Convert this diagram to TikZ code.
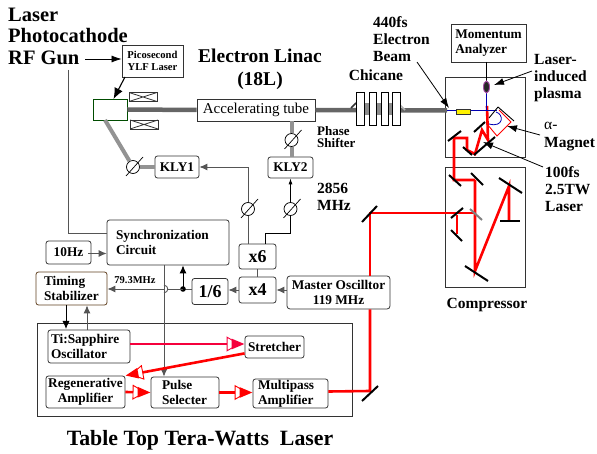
\documentclass[tikz,border=0pt]{standalone}
\usepackage{fontspec}
\setmainfont{Liberation Serif}
\usetikzlibrary{arrows.meta}
\definecolor{sigcol}{HTML}{555555}
\definecolor{boxcol}{HTML}{333333}
\definecolor{beamcol}{HTML}{666666}
\definecolor{pulsecol}{HTML}{F5003C}
\tikzset{
    blk/.style={draw=boxcol,fill=white,rounded corners=2.5pt,line width=0.8pt,inner sep=0pt,font=\bfseries\fontsize{13.3}{15}\selectfont,align=center},
    panel/.style={draw=boxcol,line width=0.9pt,inner sep=0pt},
    lbl/.style={inner sep=0pt,align=left,font=\bfseries\fontsize{15.5}{17}\selectfont},
    bigtxt/.style 2 args={inner sep=0pt,font=\bfseries\fontsize{#1}{#2}\selectfont},
    coil/.style={draw=boxcol,line width=0.8pt,inner sep=0pt,minimum width=28pt,minimum height=9pt,
        path picture={\draw[boxcol] (path picture bounding box.north west) -- (path picture bounding box.south east)
        (path picture bounding box.south west) -- (path picture bounding box.north east);}},
    phasecirc/.style={circle,draw=black,fill=white,line width=0.7pt,minimum size=13pt,inner sep=0pt},
    sig/.style={draw=sigcol,line width=0.9pt},
    sigarrow/.style={sig,-{Latex[length=8pt,width=7pt]}},
    callout/.style={draw=black,line width=0.8pt,-{Latex[length=10pt,width=7pt]}},
    thickrf/.style={draw=gray!85,line width=4pt},
    beamline/.style={draw=beamcol,line width=4.5pt},
    laser/.style={draw=red,line width=2.6pt},
    lasarrow/.style={laser,-{Triangle[open,fill=white,length=13pt,width=15pt,line width=0.9pt,sep=-8pt]Triangle[length=13pt,width=10pt]}},
    mirror/.style={draw=black,line width=2pt},
}
\newcommand{\phaseshift}[2]{
    \node[phasecirc] (#1) at (#2) {};
    \draw[line width=0.7pt] (#1) ++(-7,9) -- ++(17,-19);
}
\begin{document}
\begin{tikzpicture}[x=1pt,y=-1pt]
    \useasboundingbox (0,0) rectangle (597,454);

    \node[panel,minimum width=315pt,minimum height=93pt] (tabletop) at (194.5,369.5) {};
    \node[panel,minimum width=80pt,minimum height=80pt] (chamber) at (485,117) {};
    \node[panel,minimum width=80pt,minimum height=120pt] (compressor) at (485,227) {};

    \node[bigtxt={20.5}{21.5},align=left,anchor=west] (gunlabel) at (8,36) {Laser\\Photocathode\\RF Gun};
    \node[blk,rounded corners=0pt,font=\bfseries\fontsize{10.6}{12}\selectfont,minimum width=61pt,minimum height=32pt] (ylf) at (152.5,61) {Picosecond\\YLF Laser};
    \node[bigtxt={19.5}{23},align=center] (linac) at (260,69.5) {Electron Linac\\(18L)};
    \node[draw=green!30!black,fill=white,line width=0.8pt,minimum width=34pt,minimum height=21pt,inner sep=0pt] (gun) at (110,109.5) {};
    \node[coil] (coilup) at (143,97) {};
    \node[coil] (coildown) at (144,124.5) {};
    \node[draw=boxcol,fill=white,line width=0.8pt,inner sep=0pt,minimum width=118pt,minimum height=22pt,font=\fontsize{15}{17}\selectfont] (tube) at (256,110) {Accelerating tube};

    \node[blk,minimum width=44pt,minimum height=22pt] (kly1) at (177,167) {KLY1};
    \node[blk,minimum width=45pt,minimum height=21pt] (kly2) at (290.5,167.5) {KLY2};
    \node[lbl,anchor=west,font=\bfseries\fontsize{13}{12.5}\selectfont] (shifter) at (317,137) {Phase\\Shifter};
    \node[lbl,anchor=west] (freq) at (317,197) {2856\\MHz};
    \node[lbl] (chicane) at (376,75) {Chicane};
    \node[lbl,anchor=west] (beamlabel) at (373,39) {440fs\\Electron\\Beam};

    \node[blk,rounded corners=0pt,align=left,minimum width=75pt,minimum height=38pt] (analyzer) at (488.5,43) {Momentum\\Analyzer};
    \node[lbl,anchor=west] (plasmalabel) at (534,78) {Laser-\\induced\\plasma};
    \node[lbl,anchor=west,font=\bfseries\fontsize{15.5}{18}\selectfont] (magnetlabel) at (544,136.5) {\normalfont α-\\\bfseries Magnet};
    \node[lbl,anchor=west] (powerlabel) at (545,189) {100fs\\2.5TW\\Laser};
    \node[lbl] (complabel) at (487,305) {Compressor};

    \node[blk,align=left,text width=104pt,inner xsep=9pt,minimum height=45pt] (sync) at (168,242.5) {Synchronization\\Circuit};
    \node[blk,minimum width=45pt,minimum height=23pt] (hz) at (68.5,252.5) {10Hz};
    \node[blk,draw=brown!50!black,align=left,text width=55pt,inner xsep=8pt,minimum height=33pt] (timing) at (71.5,288.5) {Timing\\Stabilizer};
    \node[blk,font=\bfseries\fontsize{18}{20}\selectfont,minimum width=37pt,minimum height=25pt] (x6) at (257.5,256.5) {x6};
    \node[blk,font=\bfseries\fontsize{18}{20}\selectfont,minimum width=37pt,minimum height=26pt] (x4) at (257.5,290) {x4};
    \node[blk,font=\bfseries\fontsize{18}{20}\selectfont,minimum width=36pt,minimum height=26pt] (div) at (210,291.5) {1/6};
    \node[blk,minimum width=103pt,minimum height=33pt,rounded corners=3pt] (master) at (338.5,292.5) {Master Oscilltor\\119 MHz};
    \node[inner sep=0pt,font=\bfseries\fontsize{10.5}{12}\selectfont] (rate) at (135,280.5) {79.3MHz};

    \node[blk,align=left,text width=76pt,inner xsep=3pt,minimum height=33pt] (oscillator) at (89,346.5) {Ti:Sapphire\\Oscillator};
    \node[blk,minimum width=59pt,minimum height=22pt] (stretcher) at (274.5,347) {Stretcher};
    \node[blk,minimum width=79pt,minimum height=32pt] (regen) at (85.5,392) {Regenerative\\Amplifier};
    \node[blk,align=left,text width=46pt,inner xsep=11pt,minimum height=31pt] (pulse) at (185,392.5) {Pulse\\Selecter};
    \node[blk,align=left,text width=65pt,inner xsep=5pt,minimum height=29pt] (multipass) at (290.5,393.5) {Multipass\\Amplifier};
    \node[bigtxt={21.8}{23}] (tabletitle) at (200,440) {Table Top Tera-Watts\ \ Laser};

    \coordinate (ylfin) at (85,59);
    \coordinate (ylfout) at (125,77);
    \coordinate (gunin) at (113.5,99);
    \coordinate (gunfoot) at (68,70);
    \coordinate (syncgun) at (107,233);
    \coordinate (gunrf) at (105,120);
    \coordinate (x6up) at (265,244);
    \coordinate (syncdown) at (164,265);
    \coordinate (tap) at (183,289);
    \coordinate (downleg) at (66,305);
    \coordinate (downend) at (66,329);
    \coordinate (upleg) at (87,330);
    \coordinate (hzout) at (88,253.5);
    \coordinate (oscout) at (130,344);
    \coordinate (turn) at (370,213);
    \coordinate (turnlow) at (370,391);
    \coordinate (blueleft) at (447,110);
    \coordinate (analyzerout) at (486.5,62);

    \phaseshift{ph1}{133,167}
    \phaseshift{ph2}{291.5,140}
    \phaseshift{ph3}{248,209}
    \phaseshift{ph4}{290.5,209}

    \draw[-{Latex[length=10pt,width=7pt]},line width=0.7pt] (ylfin) -- (ylf.west |- ylfin);
    \draw[-{Latex[length=11pt,width=9pt]},line width=1.1pt] (ylfout) -- (gunin);
    \draw[sig] (gunfoot) |- (syncgun);
    \draw[beamline] (gun.east) -- (tube.west);
    \draw[thickrf] (gunrf) -- (ph1);
    \draw[thickrf] (ph1) -- (kly1.west);
    \draw[thickrf] (tube.south -| ph2) -- (ph2);
    \draw[thickrf] (ph2) -- (kly2.north -| ph2);

    \draw[sig] (x6.north -| ph3) -- (ph3);
    \draw[sigarrow] (ph3) |- (kly1.east);
    \draw[draw=black,line width=0.8pt] (x6up) -- (265,233) -| (ph4);
    \draw[draw=black,line width=0.8pt,-{Latex[length=6pt,width=4pt]}] (ph4) -- (kly2.south -| ph4);
    \draw[sig] (x6) -- (x4);
    \draw[sigarrow] (master.west |- x4) -- (x4.east);
    \draw[sigarrow] (x4.west) -- (div.east |- x4);
    \draw[sig] (div.west |- tap) -- (tap);
    \fill[black] (tap) circle (2.8pt);
    \draw[sigarrow,draw=black] (tap) -- (tap |- sync.south);
    \draw[sig] (tap) -- (168,289);
    \draw[sig] (164,285) .. controls (169,286) and (169,292) .. (164,293);
    \draw[sigarrow] (syncdown |- tap) -- (timing.east |- tap);
    \draw[sigarrow] (hzout) -- (sync.west |- hzout);
    \draw[sigarrow] (syncdown) -- (syncdown |- pulse.north);
    \draw[sigarrow,draw=black] (downleg) -- (downend);
    \draw[sigarrow] (upleg) -- (upleg |- timing.south);

    \draw[lasarrow,draw=pulsecol] (oscout) -- (stretcher.west |- oscout);
    \draw[lasarrow] (stretcher.south west) ++(0,-5) -- (regen.north east);
    \draw[lasarrow] (regen.east) -- (pulse.west);
    \draw[lasarrow] (pulse.east) -- (multipass.west |- pulse);
    \draw[laser] (multipass.east) ++(0,-2) -- (turnlow) -- (turn |- master.south);
    \draw[laser] (turn |- master.north) -- (turn) -- (475,213);
    \draw[laser] (475,180) -- (454,180) -- (454,138) -- (467,138) -- (467,150) -- (475,154) -- (482,130) -- (488,140) -- (487,106);
    \draw[laser] (475,180) -- (475,271) -- (509,186) -- (509,221);
    \draw[laser] (457,215) -- (457,234);

    \draw[beamline] (tube.east) -- (447,110.5);
    \fill[gray!90] (356,103) rectangle (400,115);
    \draw[boxcol,line width=1.6pt] (351,108) -- (356,103);
    \draw[gray!60,line width=1.6pt] (400,105) -- (405,110);
    \foreach \xa/\xb in {356/364,369/376,381/388,392/400}
        \draw[fill=white,line width=0.9pt] (\xa,92) rectangle (\xb,125);

    \draw[blue!70!black,line width=0.9pt] (blueleft) -- (497,110);
    \draw[blue!70!black,line width=0.9pt] (486.5,93) -- (486.5,110);
    \draw[blue!70!black,line width=0.8pt] (496,112) .. controls (504,114) and (504,128) .. (489,124);
    \draw[black,line width=0.8pt] (analyzerout) -- (486.5,81);
    \draw[fill=yellow,draw=boxcol,line width=0.7pt] (456,109) rectangle (470,114);
    \draw[draw=violet!70,fill=black!85,line width=0.9pt] (486.5,87) ellipse (3pt and 6pt);
    \draw[red,line width=0.9pt] (499,110) -- (511,122) -- (497,136) -- (487,124);
    \draw[black,line width=0.9pt] (498,107) -- (514,121);
    \draw[black,line width=0.9pt] (498,107) -- (489,118);

    \foreach \ax/\ay/\bx/\by in {448/141/461/131,463/147/472/155,474/155/495/137,474/132/485/122,449/175/461/186,471/173/483/185,499/178/522/193,451/218/463/208,451/230/462/241,500/221/520/221,465/266/488/281,362/222/377/206,362/401/378/386}
        \draw[mirror] (\ax,\ay) -- (\bx,\by);
    \draw[mirror,draw=gray] (470,209) -- (482,220);

    \draw[callout] (417,62) -- (449,108);
    \draw[callout] (532,71) -- (494,85);
    \draw[callout] (540,135) -- (507,126);
    \draw[callout] (543,167) -- (483,142);
\end{tikzpicture}
\end{document}
